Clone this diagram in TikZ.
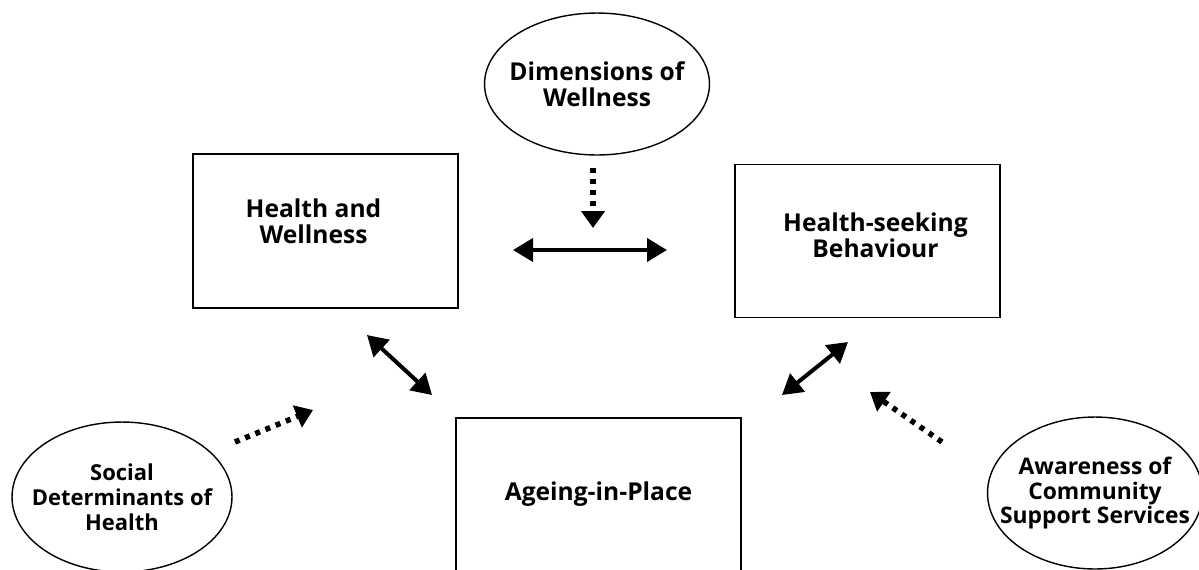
\documentclass[tikz,border=0pt]{standalone}
\usepackage{fontspec}
\setmainfont{Open Sans}
\usetikzlibrary{arrows.meta,shapes.geometric}

\begin{document}
\begin{tikzpicture}[x=0.02cm, y=-0.02cm, >={Triangle[length=0.4cm, width=0.46cm]},
                    font=\bfseries\fontsize{14}{14.8}\selectfont]
    \tikzstyle{box}=[draw, rectangle, line width=1.1pt, inner sep=0pt, align=center]
    \tikzstyle{oval}=[draw, ellipse, line width=0.8pt, inner xsep=-1cm, inner ysep=-0.6cm,
                      align=center]
    \tikzstyle{both}=[<->, line width=0.08cm]
    \tikzstyle{dots}=[-{Triangle[length=0.34cm, width=0.46cm]}, line width=0.11cm,
                      dash pattern=on 0.1cm off 0.12cm]

    \useasboundingbox (0,0) rectangle (1199,569);

    % text in the two upper boxes sits a little off centre
    \node[box, minimum width=5.3cm, minimum height=3.08cm, text depth=0.4cm]
        (H) at (325.5,231)   {Health and\hspace*{0.48cm}\\Wellness\hspace*{0.48cm}};
    \node[box, minimum width=5.3cm, minimum height=3.06cm, text depth=0.24cm]
        (B) at (867.5,241)   {\hspace*{0.32cm}Health-seeking\\\hspace*{0.32cm}Behaviour};
    \node[box, minimum width=5.7cm, anchor=north, inner ysep=1.28cm, text depth=1.5cm]
        (P) at (598.5,417)   {Ageing-in-Place};

    \node[oval, minimum width=4.5cm, minimum height=2.84cm]
        (D) at (597,84)      {Dimensions of\\Wellness};
    \node[oval, minimum width=4.4cm, minimum height=3.0cm,
          font=\bfseries\fontsize{12.5}{14.2}\selectfont]
        (S) at (122,497)     {Social\\Determinants of\\Health};
    \node[oval, minimum width=4.3cm, minimum height=3.04cm,
          font=\bfseries\fontsize{13}{14.2}\selectfont]
        (C) at (1095,493)    {Awareness of\\Community\\Support Services};

    % arrow ends
    \coordinate (hb1) at (513,250);
    \coordinate (hb2) at (667,250);
    \coordinate (d1)  at (593,168);
    \coordinate (d2)  at (593,228);
    \coordinate (hp1) at (367,335);
    \coordinate (hp2) at (432,395);
    \coordinate (bp1) at (782,395);
    \coordinate (bp2) at (848,342);
    \coordinate (s1)  at (235,442);
    \coordinate (s2)  at (313,410);
    \coordinate (c1)  at (942,442);
    \coordinate (c2)  at (870,392);

    \path (hb1) edge [both] (hb2);
    \path (hp1) edge [both] (hp2);
    \path (bp1) edge [both] (bp2);
    \path (d1)  edge [dots] (d2);
    \path (s1)  edge [dots] (s2);
    \path (c1)  edge [dots] (c2);
\end{tikzpicture}
\end{document}
